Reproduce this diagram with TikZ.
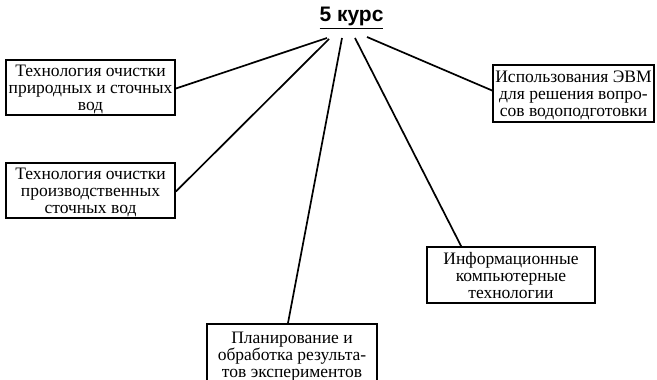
\documentclass[tikz,border=0pt]{standalone}
\usepackage{fontspec}
\setmainfont{Liberation Serif}
\setsansfont{Liberation Sans}
\usetikzlibrary{calc}
\begin{document}
\begin{tikzpicture}[x=1pt,y=1pt,
  topic/.style={draw=black, line width=1.8pt, inner sep=0pt, align=center,
    font=\fontsize{17.5}{17}\selectfont, text depth=0pt},
  link/.style={draw=black, line width=1.7pt}]
\useasboundingbox (0,0) rectangle (657,380);
\node[font=\sffamily\bfseries\fontsize{21}{24}\selectfont, anchor=base] (title) at (351.5,358) {\underline{5 курс}};
\node[topic, minimum width=169, minimum height=55] (b1) at (90.5,292.5) {Технология очистки\\природных и сточных\\вод};
\node[topic, minimum width=169, minimum height=55] (b2) at (90.5,189.5) {Технология очистки\\производственных\\сточных вод};
\node[topic, minimum width=161, minimum height=57] (b5) at (573.5,286.5) {Использования ЭВМ\\для решения вопро-\\сов водоподготовки};
\node[topic, minimum width=168, minimum height=56] (b4) at (511,105) {Информационные\\компьютерные\\технологии};
\node[topic, minimum width=170, minimum height=61, anchor=north] (b3) at (292,57) {Планирование и\\обработка результа-\\тов экспериментов};
\coordinate (s1) at (327,342);
\coordinate (s2) at (329,341);
\coordinate (s3) at (342,342);
\coordinate (s4) at (355,342);
\coordinate (s5) at (367,343);
\draw[link] (s1) -- ($(b1.east)+(0,-1)$);
\draw[link] (s2) -- ($(b2.east)+(0,-1)$);
\draw[link] (s3) -- ($(b3.north)+(-4,0)$);
\draw[link] (s4) -- ($(b4.north west)+(35,0)$);
\draw[link] (s5) -- ($(b5.west)+(0,3)$);
\end{tikzpicture}
\end{document}
